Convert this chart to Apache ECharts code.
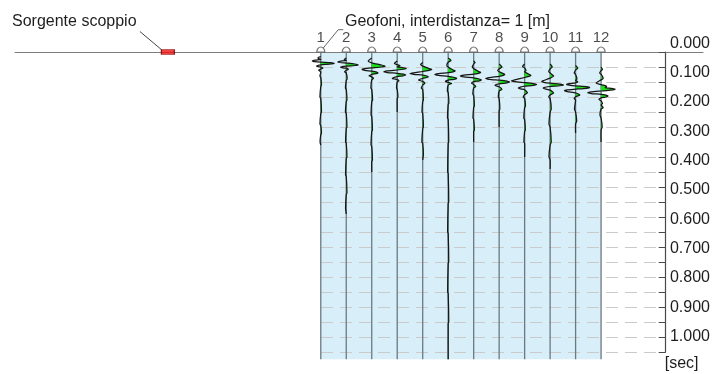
<!DOCTYPE html>
<html>
<head>
<meta charset="utf-8">
<script src="https://cdn.jsdelivr.net/npm/echarts@6/dist/echarts.min.js"></script>
<style>
  html, body { margin: 0; padding: 0; background: #ffffff; }
  #chart { width: 713px; height: 374px; }
</style>
</head>
<body>
<div id="chart"></div>
<script>
// Survey line layout [m]
const geophoneIds = [1, 2, 3, 4, 5, 6, 7, 8, 9, 10, 11, 12];
const geophonePos = [0, 1, 2, 3, 4, 5, 6, 7, 8, 9, 10, 11];
const sourcePos = -6;
const lineExtent = [-12, 15];
const recordLength = 1.024;           // s
const timeRange = [0, 1];             // s, labelled part of the time axis
const sourceLabel = 'Sorgente scoppio';
const spreadLabel = 'Geofoni, interdistanza= 1 [m]';
const timeUnit = '[sec]';

// Recorded traces: [time s, normalised amplitude]
const trace1 = [[0.015,0],[0.018,-0.15],[0.020,-0.2],[0.022,-0.15],[0.025,0],[0.027,-0.4],[0.030,-0.6],[0.032,-0.45],[0.034,0],[0.0355,0.7],[0.038,0.95],[0.040,0.75],[0.043,0],[0.045,-0.22],[0.047,-0.3],[0.049,-0.2],[0.050,0],[0.053,0.15],[0.057,0],[0.061,-0.15],[0.066,0],[0.080,-0.06],[0.085,0],[0.110,0.05],[0.115,0],[0.150,-0.06],[0.155,0],[0.200,0.05],[0.205,0],[0.240,-0.06],[0.245,0],[0.270,0.05],[0.275,0],[0.300,-0.05],[0.310,0]];
const trace2 = [[0.020,0],[0.025,-0.15],[0.028,0],[0.031,-0.45],[0.033,-0.6],[0.035,-0.45],[0.037,0],[0.040,0.6],[0.043,0.85],[0.045,0.65],[0.047,0],[0.049,-0.3],[0.051,-0.4],[0.053,-0.25],[0.054,0],[0.058,0.15],[0.061,0],[0.066,-0.12],[0.070,0],[0.090,0.06],[0.095,0],[0.120,-0.06],[0.125,0],[0.160,0.05],[0.165,0],[0.200,-0.06],[0.205,0],[0.250,0.05],[0.255,0],[0.300,-0.05],[0.305,0],[0.350,0.05],[0.355,0],[0.410,-0.05],[0.415,0],[0.470,0.05],[0.475,0],[0.520,-0.05],[0.540,0]];
const trace3 = [[0.020,0],[0.030,-0.25],[0.036,0],[0.043,0.65],[0.047,0.95],[0.050,0.7],[0.053,0],[0.0555,-0.5],[0.058,-0.7],[0.061,-0.5],[0.064,0],[0.067,0.35],[0.070,0.45],[0.072,0.3],[0.075,0],[0.079,-0.2],[0.083,0],[0.088,0.12],[0.093,0],[0.120,-0.06],[0.125,0],[0.160,0.06],[0.165,0],[0.210,-0.05],[0.215,0],[0.260,0.05],[0.265,0],[0.310,-0.05],[0.315,0],[0.360,0.05],[0.365,0],[0.400,0]];
const trace4 = [[0.030,0],[0.038,-0.2],[0.042,0],[0.046,0.2],[0.050,0],[0.0525,0.45],[0.055,0.65],[0.0575,0.45],[0.060,0],[0.063,-0.7],[0.066,-0.95],[0.0685,-0.7],[0.071,0],[0.074,0.45],[0.077,0.6],[0.0795,0.4],[0.082,0],[0.085,-0.25],[0.088,-0.35],[0.090,-0.2],[0.092,0],[0.096,0.12],[0.100,0],[0.120,-0.05],[0.125,0],[0.150,0.05],[0.155,0],[0.200,0]];
const trace5 = [[0.035,0],[0.042,-0.15],[0.047,0],[0.055,0.45],[0.058,0.65],[0.061,0.45],[0.065,0],[0.0695,-0.65],[0.072,-0.9],[0.0745,-0.65],[0.077,0],[0.080,0.3],[0.083,0.4],[0.085,0.28],[0.088,0],[0.093,-0.3],[0.098,0],[0.104,0.15],[0.110,0],[0.120,-0.1],[0.125,0],[0.160,0.05],[0.165,0],[0.200,-0.05],[0.205,0],[0.250,0.05],[0.255,0],[0.300,-0.06],[0.305,0],[0.340,0.05],[0.360,0]];
const trace6 = [[0.020,0],[0.028,0.2],[0.034,0],[0.045,-0.1],[0.050,0],[0.060,0.35],[0.063,0.5],[0.066,0.35],[0.069,0],[0.072,-0.7],[0.075,-0.95],[0.078,-0.7],[0.081,0],[0.085,0.45],[0.088,0.6],[0.091,0.4],[0.094,0],[0.098,-0.2],[0.101,0],[0.105,0.25],[0.110,0],[0.130,-0.06],[0.135,0],[0.170,0.05],[0.175,0],[0.220,-0.05],[0.225,0],[0.300,0.04],[0.305,0],[0.400,-0.04],[0.405,0],[0.500,0.04],[0.505,0],[0.600,-0.04],[0.605,0],[0.700,0.04],[0.705,0],[0.800,-0.04],[0.805,0],[0.900,0.04],[0.905,0],[1.024,0]];
const trace7 = [[0.030,0],[0.035,0.1],[0.040,0],[0.050,-0.1],[0.055,0],[0.065,0.35],[0.068,0.5],[0.071,0.35],[0.074,0],[0.077,-0.7],[0.080,-0.95],[0.083,-0.7],[0.086,0],[0.090,0.4],[0.093,0.55],[0.096,0.4],[0.099,0],[0.104,-0.15],[0.108,0],[0.115,0.15],[0.120,0],[0.140,-0.06],[0.145,0],[0.180,0.05],[0.185,0],[0.220,-0.05],[0.225,0],[0.260,0.05],[0.265,0],[0.300,0]];
const trace8 = [[0.040,0],[0.050,0.2],[0.056,0],[0.062,-0.1],[0.066,0],[0.072,0.3],[0.075,0.4],[0.078,0.3],[0.081,0],[0.085,-0.7],[0.088,-0.95],[0.091,-0.7],[0.094,0],[0.097,0.55],[0.100,0.75],[0.103,0.55],[0.106,0],[0.111,-0.3],[0.116,0],[0.125,0.2],[0.130,0],[0.150,-0.06],[0.155,0],[0.190,0.05],[0.195,0],[0.250,0]];
const trace9 = [[0.040,0],[0.048,-0.15],[0.053,0],[0.062,0.1],[0.066,0],[0.074,0.3],[0.078,0.45],[0.081,0.3],[0.085,0],[0.093,-0.7],[0.096,-0.95],[0.099,-0.7],[0.102,0],[0.105,0.6],[0.108,0.85],[0.111,0.6],[0.114,0],[0.117,-0.3],[0.120,-0.45],[0.123,-0.3],[0.126,0],[0.136,0.2],[0.142,0],[0.150,-0.1],[0.155,0],[0.180,0.06],[0.185,0],[0.220,-0.06],[0.225,0],[0.260,0.05],[0.265,0],[0.300,-0.05],[0.305,0],[0.350,0]];
const trace10 = [[0.040,0],[0.050,0.15],[0.056,0],[0.065,-0.1],[0.070,0],[0.080,0.25],[0.087,0],[0.095,-0.45],[0.098,-0.6],[0.101,-0.45],[0.104,0],[0.107,0.7],[0.110,0.95],[0.1125,0.7],[0.115,0],[0.1175,-0.35],[0.120,-0.5],[0.123,-0.35],[0.127,0],[0.137,0.25],[0.143,0],[0.150,-0.1],[0.155,0],[0.190,0.08],[0.200,0],[0.240,-0.08],[0.250,0],[0.300,0.08],[0.310,0],[0.350,-0.08],[0.360,0],[0.390,0]];
const trace11 = [[0.045,0],[0.054,0.15],[0.060,0],[0.070,-0.1],[0.075,0],[0.090,0.1],[0.095,0],[0.099,0.15],[0.103,0],[0.1055,-0.45],[0.108,-0.65],[0.1105,-0.45],[0.113,0],[0.1155,0.75],[0.118,1.0],[0.121,0.75],[0.124,0],[0.1265,-0.6],[0.129,-0.8],[0.132,-0.6],[0.136,0],[0.140,0.2],[0.143,0.3],[0.146,0.2],[0.149,0],[0.155,-0.1],[0.160,0],[0.190,-0.08],[0.200,0],[0.230,0.08],[0.240,0],[0.270,0]];
const trace12 = [[0.050,0],[0.058,0.1],[0.062,0],[0.070,-0.1],[0.074,0],[0.088,0.15],[0.093,0],[0.103,-0.35],[0.109,0],[0.112,0.3],[0.115,0.4],[0.119,0.3],[0.1215,0.75],[0.124,1.0],[0.127,0.7],[0.130,0],[0.133,-0.7],[0.136,-0.95],[0.1385,-0.7],[0.141,0],[0.144,0.35],[0.147,0.5],[0.150,0.35],[0.153,0],[0.158,-0.15],[0.163,0],[0.172,0.1],[0.176,0],[0.186,0.15],[0.190,0],[0.210,-0.08],[0.220,0],[0.250,0.08],[0.260,0],[0.300,0]];
const traces = [trace1, trace2, trace3, trace4, trace5, trace6, trace7, trace8, trace9, trace10, trace11, trace12];

// Display gain: metres of horizontal deflection per unit amplitude
const gain = 0.55;

const FONT = '"Liberation Sans", Arial, sans-serif';
const TEXT = '#1e1e1e';

const chart = echarts.init(document.getElementById('chart'), null, { renderer: 'canvas' });

function renderPanel(params, api) {
  const a = api.coord([geophonePos[0], 0]);
  const b = api.coord([geophonePos[geophonePos.length - 1], recordLength]);
  return {
    type: 'rect',
    shape: { x: a[0], y: a[1], width: b[0] - a[0], height: b[1] - a[1] },
    style: { fill: '#d8eef8' }
  };
}

function renderTrace(params, api) {
  const i = params.dataIndex;
  const x0 = geophonePos[i];
  const s = traces[i];
  const wiggle = s.map(([t, a]) => api.coord([x0 + a * gain, t]));
  const lobes = [api.coord([x0, s[0][0]])]
    .concat(s.map(([t, a]) => api.coord([x0 + Math.max(a, 0) * gain, t])))
    .concat([api.coord([x0, s[s.length - 1][0]])]);
  const top = api.coord([x0, 0]);
  const bottom = api.coord([x0, recordLength]);
  return {
    type: 'group',
    children: [
      { type: 'line', shape: { x1: top[0], y1: top[1], x2: bottom[0], y2: bottom[1] },
        style: { stroke: '#6a7a81', lineWidth: 1.3 } },
      { type: 'polygon', shape: { points: lobes, smooth: 0.2 }, style: { fill: '#19e019' } },
      { type: 'polyline', shape: { points: wiggle, smooth: 0.2 },
        style: { stroke: '#161616', lineWidth: 1.25, fill: null } }
    ]
  };
}

const option = {
  animation: false,
  grid: [
    { left: 15, right: 10, top: 52, height: 300 },          // survey line + traces
    { left: 321, right: 47.3, top: 52, height: 300 },       // time axis ticks / grid
    { left: 321, right: 47.3, top: 43.3, height: 293.4 }    // time axis labels
  ],
  xAxis: [
    { gridIndex: 0, type: 'value', position: 'top', min: lineExtent[0], max: lineExtent[1], z: 1,
      axisLine: { show: true, onZero: false, lineStyle: { color: '#7d7d7d', width: 1.2 } },
      axisTick: { show: false }, axisLabel: { show: false }, splitLine: { show: false } },
    { gridIndex: 1, type: 'value', show: false, min: 0, max: 1 },
    { gridIndex: 2, type: 'value', show: false, min: 0, max: 1 }
  ],
  yAxis: [
    { gridIndex: 0, type: 'value', show: false, inverse: true, min: timeRange[0], max: timeRange[1] },
    { gridIndex: 1, type: 'value', position: 'right', inverse: true, min: timeRange[0], max: timeRange[1],
      interval: 0.05, z: 1,
      axisLine: { show: true, onZero: false, lineStyle: { color: '#4a4a4a', width: 1.2 } },
      axisTick: { show: true, inside: true, length: 7, lineStyle: { color: '#4a4a4a' } },
      axisLabel: { show: false },
      splitLine: { show: true, lineStyle: { color: '#cacaca', type: [12, 7], width: 1 } } },
    { gridIndex: 2, type: 'value', position: 'right', inverse: true, min: timeRange[0], max: timeRange[1],
      interval: 0.1,
      axisLine: { show: false, onZero: false }, axisTick: { show: false }, splitLine: { show: false },
      axisLabel: { show: true, margin: 5, fontSize: 16, fontFamily: FONT, color: TEXT,
        formatter: v => v.toFixed(3) } }
  ],
  series: [
    { type: 'custom', xAxisIndex: 0, yAxisIndex: 0, z: 0, silent: true,
      data: [[geophonePos[0], 0]], renderItem: renderPanel },
    { type: 'custom', xAxisIndex: 0, yAxisIndex: 0, z: 2, silent: true,
      data: traces.map((_, i) => [geophonePos[i], 0]), renderItem: renderTrace },
    { type: 'scatter', xAxisIndex: 0, yAxisIndex: 0, z: 3, silent: true,
      symbol: 'path://M0,10 A10,10 0 0 1 20,10 Z', symbolSize: [8, 5], symbolOffset: [0, -2.5],
      itemStyle: { color: '#ffffff', borderColor: '#555555', borderWidth: 1 },
      label: { show: true, position: 'top', distance: 1, formatter: '{b}',
        fontSize: 15, fontFamily: FONT, color: TEXT },
      data: geophonePos.map((p, i) => ({ name: String(geophoneIds[i]), value: [p, 0] })) },
    { type: 'scatter', xAxisIndex: 0, yAxisIndex: 0, z: 3, silent: true,
      symbol: 'rect', symbolSize: [13, 5],
      itemStyle: { color: '#ee1111', borderColor: '#6e0000', borderWidth: 0.8 },
      data: [[sourcePos, 0]] }
  ]
};

chart.setOption(option);

// Annotations anchored to the source and first geophone
const src = chart.convertToPixel({ gridIndex: 0 }, [sourcePos, 0]);
const g1 = chart.convertToPixel({ gridIndex: 0 }, [geophonePos[0], 0]);
const axisEnd = chart.convertToPixel({ gridIndex: 1 }, [1, timeRange[1]]);

chart.setOption({
  graphic: [
    { type: 'polyline', silent: true,
      shape: { points: [[src[0] - 28, src[1] - 20.5], [src[0] - 6, src[1] - 2]] },
      style: { stroke: '#444', lineWidth: 1, fill: null } },
    { type: 'text', silent: true, x: 12, y: 21.5,
      style: { text: sourceLabel, font: '16px ' + FONT, fill: TEXT, verticalAlign: 'middle', align: 'left' } },
    { type: 'polyline', silent: true,
      shape: { points: [[g1[0] + 2.5, g1[1] - 4], [g1[0] + 17.5, g1[1] - 22.3], [g1[0] + 22.5, g1[1] - 22.3]] },
      style: { stroke: '#555', lineWidth: 0.9, fill: null } },
    { type: 'text', silent: true, x: 447.5, y: 21.5,
      style: { text: spreadLabel, font: '16px ' + FONT, fill: TEXT, verticalAlign: 'middle', align: 'center' } },
    { type: 'text', silent: true, x: axisEnd[0] - 1, y: axisEnd[1] + 12,
      style: { text: timeUnit, font: '16px ' + FONT, fill: TEXT, verticalAlign: 'middle', align: 'left' } }
  ]
});
</script>
</body>
</html>
